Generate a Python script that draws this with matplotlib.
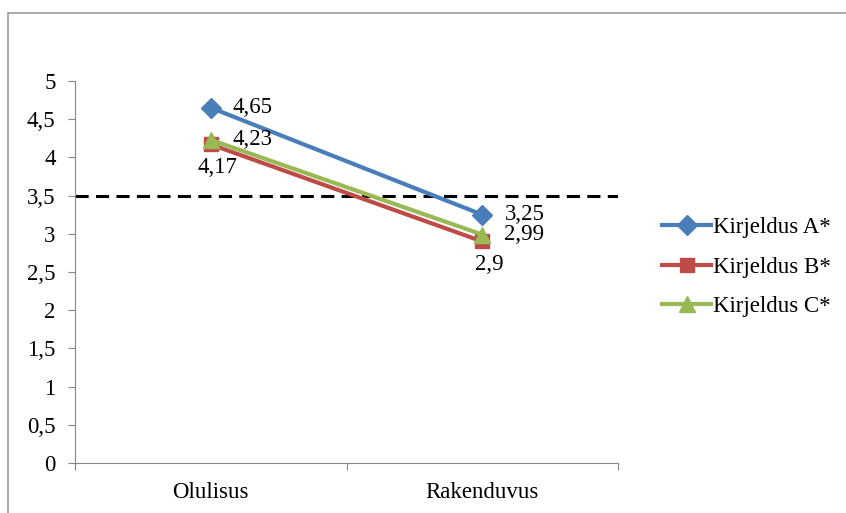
import matplotlib.pyplot as plt
from matplotlib.patches import Rectangle

# Andmed
kategooriad = ['Olulisus', 'Rakenduvus']
kirjeldus_a = [4.65, 3.25]
kirjeldus_b = [4.17, 2.90]
kirjeldus_c = [4.23, 2.99]
seeria_nimed = ['Kirjeldus A*', 'Kirjeldus B*', 'Kirjeldus C*']
y_margid = [0, 0.5, 1, 1.5, 2, 2.5, 3, 3.5, 4, 4.5, 5]
lavi = 3.5

plt.rcParams['font.family'] = ['Liberation Serif', 'DejaVu Serif']

fig = plt.figure(figsize=(8.46, 5.13), dpi=100)
# diagrammi raam (parem ja alumine serv jäävad pildist välja)
fig.patches.append(Rectangle((8 / 846, -0.1), 2, 1 - 13 / 513 + 0.1, transform=fig.transFigure,
                             fill=False, edgecolor='#9a9a9a', linewidth=1.2))
ax = fig.add_axes([75 / 846, 1 - 463 / 513, 543 / 846, 382 / 513])

x = [0.5, 1.5]
ax.axhline(lavi, color='black', linestyle=(0, (4.3, 2.4)), linewidth=2.2, zorder=1)

ax.plot(x, kirjeldus_a, color='#4A7EBB', linewidth=3, marker='D', markersize=10.5,
        label=seeria_nimed[0], zorder=3)
ax.plot(x, kirjeldus_b, color='#BE4B48', linewidth=3, marker='s', markersize=10.5,
        label=seeria_nimed[1], zorder=3)
ax.plot(x, kirjeldus_c, color='#98B954', linewidth=3, marker='^', markersize=11,
        label=seeria_nimed[2], zorder=4)

def fmt(v):
    return ('%g' % v).replace('.', ',')

fs = 16.5
for xi, v in zip(x, kirjeldus_a):
    ax.annotate(fmt(v), (xi, v), xytext=(16, 0), textcoords='offset points',
                ha='left', va='center', fontsize=fs)
for xi, v in zip(x, kirjeldus_c):
    ax.annotate(fmt(v), (xi, v), xytext=(16, 0), textcoords='offset points',
                ha='left', va='center', fontsize=fs)
for xi, v in zip(x, kirjeldus_b):
    ax.annotate(fmt(v), (xi, v), xytext=(5, -9), textcoords='offset points',
                ha='center', va='top', fontsize=fs)

ax.set_xlim(0, 2)
ax.set_ylim(0, 5)
ax.set_yticks(y_margid)
ax.set_yticklabels([fmt(v) for v in y_margid], fontsize=fs)
ax.set_xticks([0, 1, 2])
ax.set_xticklabels([])
ax.set_xticks(x, minor=True)
ax.set_xticklabels(kategooriad, minor=True, fontsize=fs)
ax.tick_params(axis='x', which='minor', length=0, pad=14)
ax.tick_params(axis='x', which='major', length=5, color='#868686')
ax.tick_params(axis='y', length=5, color='#868686', pad=9)

for s in ['top', 'right']:
    ax.spines[s].set_visible(False)
for s in ['left', 'bottom']:
    ax.spines[s].set_color('#868686')

leg = ax.legend(loc='center left', bbox_to_anchor=(651 / 846, 1 - 267 / 513),
                bbox_transform=fig.transFigure, frameon=False, borderpad=0,
                fontsize=fs, handlelength=2.1, handletextpad=0.12, labelspacing=0.8)

fig.savefig('out.png', dpi=100)
